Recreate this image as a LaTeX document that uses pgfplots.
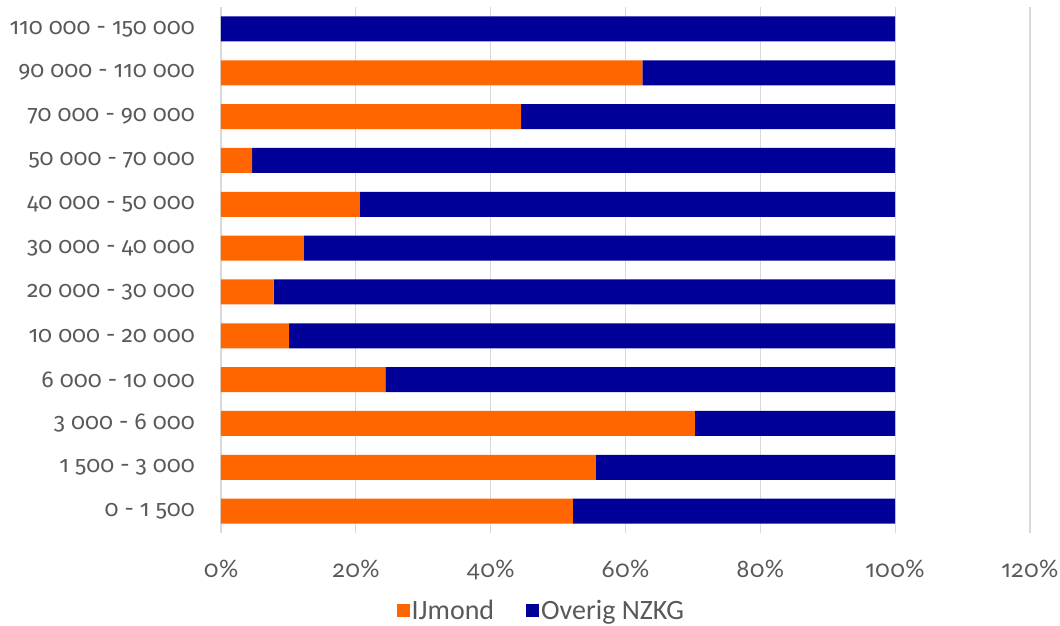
\documentclass[border=0pt]{standalone}
\usepackage{pgfplots}
\pgfplotsset{compat=1.18}
\usepackage{fontspec}
\setmainfont{Fira Sans}[RawFeature={+onum;+pnum}]
\newfontfamily\altfont{Lato}[RawFeature={+onum;+pnum}]
\newfontfamily\legfont{Carlito}
\definecolor{ijm}{HTML}{FF6600}
\definecolor{nzkg}{HTML}{000099}
\definecolor{txt}{HTML}{595959}
\definecolor{gridc}{HTML}{D9D9D9}
\begin{document}
\begin{tikzpicture}[x=1pt,y=1pt]
\useasboundingbox (-221,-92) rectangle (839,533);
\begin{axis}[
  at={(0,0)}, anchor=south west,
  scale only axis, width=809pt, height=526pt,
  xbar stacked, bar width=25pt,
  xmin=0, xmax=120, ymin=-0.5, ymax=11.5,
  xtick={0,20,...,120},
  xticklabels={0\%,20\%,40\%,60\%,80\%,100\%,120\%},
  ytick={0,...,11},
  yticklabels={0 - 1 500, 1 500 - 3 000, 3 000 - 6 000, 6 000 - 10 000, 10 000 - 20 000, 20 000 - 30 000, 30 000 - 40 000, 40 000 - 50 000, 50 000 - 70 000, 70 000 - 90 000, 90 000 - 110 000, 110 000 - 150 000},
  major tick length=0pt,
  axis line style={draw=none},
  xmajorgrids, grid style={gridc, line width=1.2pt},
  tick label style={text=txt, inner sep=0pt},
  yticklabel style={font=\fontsize{23}{26}\selectfont, anchor=east, xshift=-26pt},
  xticklabel style={font=\altfont\fontsize{24}{26}\selectfont, anchor=base, yshift=-44pt},
  legend columns=2,
  legend style={at={(0.396,-0.148)}, anchor=center, draw=none, fill=none,
    font=\legfont\fontsize{28}{30}\selectfont, text=txt,
    /tikz/every even column/.append style={column sep=30pt}},
  legend image code/.code={\fill[#1] (0pt,-6.5pt) rectangle (13pt,6.5pt);},
]
\addplot[fill=ijm, draw=none] coordinates {
(52.2,0) (55.6,1) (70.3,2) (24.4,3) (10.1,4) (7.8,5) (12.3,6) (20.6,7) (4.6,8) (44.5,9) (62.5,10) (0,11)};
\addplot[fill=nzkg, draw=none] coordinates {
(47.8,0) (44.4,1) (29.7,2) (75.6,3) (89.9,4) (92.2,5) (87.7,6) (79.4,7) (95.4,8) (55.5,9) (37.5,10) (100,11)};
\legend{IJmond, Overig NZKG}
\end{axis}
\end{tikzpicture}
\end{document}
